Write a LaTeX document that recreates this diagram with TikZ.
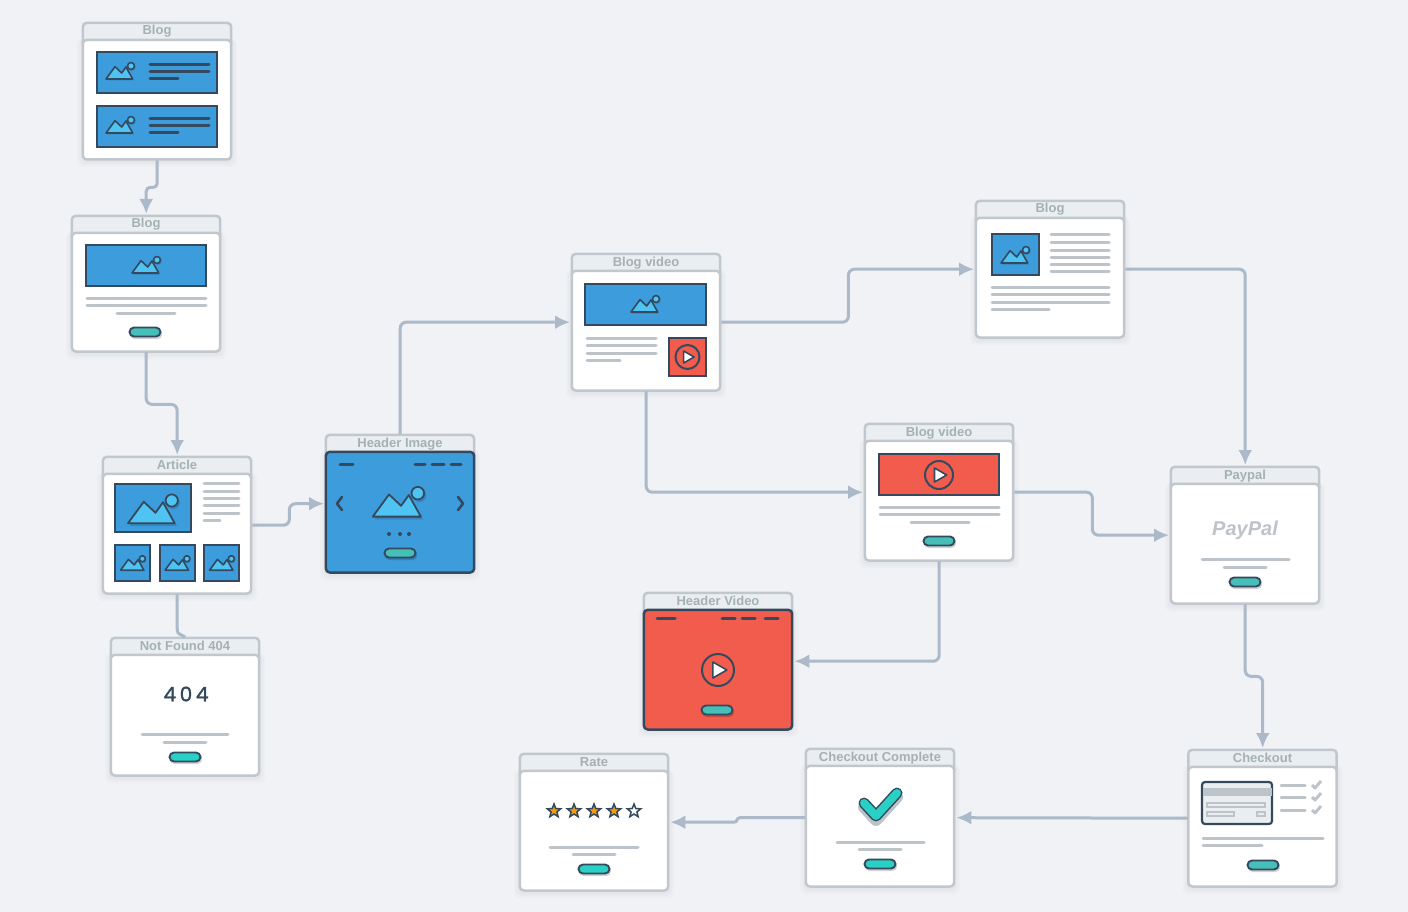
\documentclass[tikz,border=0pt]{standalone}
\usepackage{fontspec}
\setmainfont{Liberation Sans}
\newfontfamily\wide{Poppins}[LetterSpace=18,FakeBold=1.5]
\usetikzlibrary{arrows.meta,shapes.geometric}
\definecolor{pagebg}{HTML}{F0F2F6}
\definecolor{edge}{HTML}{C0C7CD}
\definecolor{tabfill}{HTML}{EBEEF0}
\definecolor{titlec}{HTML}{A4B1B2}
\definecolor{ink}{HTML}{34495E}
\definecolor{skyb}{HTML}{3C9CDC}
\definecolor{lightb}{HTML}{4FC3F2}
\definecolor{redb}{HTML}{F25C4D}
\definecolor{greyl}{HTML}{BCC3C9}
\definecolor{tealA}{HTML}{45BFB7}
\definecolor{tealB}{HTML}{2AD0C4}
\definecolor{conc}{HTML}{ABB9C9}
\definecolor{starc}{HTML}{F39C12}
\tikzset{
  conn/.style={draw=conc,line width=3pt,rounded corners=6pt,-{Latex[length=15pt,width=14pt]},shorten >=1pt},
  connplain/.style={draw=conc,line width=3pt},
  anchorbox/.style={minimum width=150pt,inner sep=0pt,anchor=north west},
  cardtitle/.style={font=\bfseries\fontsize{13}{13}\selectfont,text=titlec,inner sep=0pt,anchor=base},
  img/.style={fill=skyb,draw=ink,line width=2.2pt},
  redimg/.style={fill=redb,draw=ink,line width=2.2pt},
  gl/.style={draw=greyl,line width=3pt,line cap=round},
  dl/.style={draw=ink,line width=3pt,line cap=round},
  mstyle/.style={fill=lightb,draw=ink,line join=round},
  starnode/.style={star,star points=5,star point ratio=2.3,minimum size=14pt,inner sep=0pt,draw=ink,line width=1.5pt},
}
% #1 name, #2 x, #3 y, #4 height, #5 title, #6 body fill, #7 body edge
\newcommand\card[7]{%
  \foreach \gr in {5,3,1}{\fill[black,opacity=.016,rounded corners=5pt] (#2-\gr,#3+17) rectangle (#2+150+\gr,#3+#4+\gr+2);}
  \filldraw[fill=tabfill,draw=edge,line width=2.5pt,rounded corners=4pt] (#2+.8,#3+.8) rectangle (#2+149.2,#3+25);
  \filldraw[fill=#6,draw=#7,line width=2.5pt,rounded corners=4pt] (#2+.8,#3+17.8) rectangle (#2+149.2,#3+#4-.5);
  \node[anchorbox,minimum height=#4 pt] (#1) at (#2,#3) {};
  \node[cardtitle] (#1t) at (#2+75,#3+13) {#5};
}
% #1 style, corners x1 y1 x2 y2 (outer edge)
\newcommand\ibox[5]{\draw[#1] (#2+1,#3+1) rectangle (#4-1,#5-1);}
% #1 cx, #2 cy, #3 scale, #4 line width
\newcommand\mtn[4]{%
  \begin{scope}[shift={(#1,#2)},scale=#3]
    \fill[black,opacity=.14] (-13,8.5) -- (-5,-4) -- (1.7,2.4) -- (6,-3.6) -- (14,8.5) -- cycle;
    \fill[black,opacity=.14] (12,-4.8) circle[radius=3.7];
    \draw[mstyle,line width=#4 pt] (-14,7) -- (-5,-5.3) -- (1.7,1) -- (6,-5) -- (12.7,7) -- cycle;
    \draw[mstyle,line width=#4 pt] (11,-6) circle[radius=3.5];
  \end{scope}
}
% #1 cx, #2 cy, #3 colour
\newcommand\btn[3]{%
  \fill[black,opacity=.18,rounded corners=4.5pt] (#1-15,#2-3) rectangle (#1+17,#2+7);
  \filldraw[fill=#3,draw=ink,line width=1.9pt,rounded corners=4.5pt] (#1-15.5,#2-4.5) rectangle (#1+15.5,#2+4.5);
}
% #1 cx, #2 cy, #3 radius
\newcommand\play[3]{%
  \draw[ink,line width=2pt] (#1,#2) circle[radius=#3];
  \filldraw[fill=white,draw=ink,line width=1.6pt,line join=round] (#1-.32*#3,#2-.5*#3) -- (#1+.55*#3,#2) -- (#1-.32*#3,#2+.5*#3) -- cycle;
}
\begin{document}
\begin{tikzpicture}[x=1pt,y=-1pt]
\useasboundingbox (0,0) rectangle (1408,912);
\fill[pagebg] (0,0) rectangle (1408,912);

% ---- cards
\card{bA}{82}{22}{138}{Blog}{white}{edge}
\card{bB}{71}{215}{137}{Blog}{white}{edge}
\card{art}{102}{456}{138}{Article}{white}{edge}
\card{hi}{325}{434}{139}{Header Image}{skyb}{ink}
\card{nf}{110}{637}{139}{Not Found 404}{white}{edge}
\card{bv}{571}{253}{138}{Blog video}{white}{edge}
\card{br}{975}{200}{138}{Blog}{white}{edge}
\card{bw}{864}{423}{138}{Blog video}{white}{edge}
\card{pp}{1170}{466}{138}{Paypal}{white}{edge}
\card{hv}{643}{592}{138}{Header Video}{redb}{ink}
\card{co}{1187.5}{749}{138}{Checkout}{white}{edge}
\card{cc}{805}{748}{139}{Checkout Complete}{white}{edge}
\card{ra}{519}{753}{138}{Rate}{white}{edge}

% ---- Blog A
\ibox{img}{96}{51}{218}{94}
\ibox{img}{96}{105}{218}{148}
\mtn{120}{72}{1}{1.6}
\mtn{120}{126}{1}{1.6}
\foreach \yy in {0,54}{
  \draw[dl] (150,65+\yy) -- (209,65+\yy);
  \draw[dl] (150,72+\yy) -- (209,72+\yy);
  \draw[dl] (150,79+\yy) -- (178,79+\yy);
}
% ---- Blog B
\ibox{img}{85}{244}{207}{287}
\mtn{146}{266}{1}{1.6}
\draw[gl] (87,298) -- (206,298);
\draw[gl] (87,305) -- (206,305);
\draw[gl] (117,313) -- (175,313);
\btn{145}{332}{tealA}
% ---- Article
\ibox{img}{114}{483}{192}{533}
\mtn{152.5}{511}{1.75}{1.8}
\foreach \yy in {483,491,498,505,513}{\draw[gl] (204,\yy) -- (239,\yy);}
\draw[gl] (204,520) -- (220,520);
\foreach \xx in {114,159,203}{\ibox{img}{\xx}{544}{\xx+37}{582}}
\mtn{132.8}{564}{.87}{1.6}
\mtn{177.3}{564}{.87}{1.6}
\mtn{221.8}{564}{.87}{1.6}
% ---- Header Image
\draw[dl] (340,464) -- (353,464);
\draw[dl] (415,464) -- (425,464);
\draw[dl] (432,464) -- (444,464);
\draw[dl] (451,464) -- (461,464);
\draw[ink,line width=2.6pt,line cap=round,line join=round] (342,497) -- (337,503.5) -- (342,510);
\draw[ink,line width=2.6pt,line cap=round,line join=round] (458,497) -- (463,503.5) -- (458,510);
\mtn{398}{504}{1.8}{1.8}
\foreach \xx in {389,400,409}{\fill[ink] (\xx,534) circle[radius=2];}
\btn{400}{553}{tealA}
% ---- Not found
\node[inner sep=0pt,text=ink,font=\wide\fontsize{20}{20}\selectfont] (nft) at (186,694) {404};
\draw[gl] (142,734) -- (228,734);
\draw[gl] (164,742) -- (206,742);
\btn{185}{757}{tealB}
% ---- Blog video
\ibox{img}{584}{283}{707}{326}
\mtn{645}{305}{1}{1.6}
\foreach \yy in {338,345,353}{\draw[gl] (587,\yy) -- (656,\yy);}
\draw[gl] (587,360) -- (620,360);
\ibox{redimg}{668}{337}{707}{377}
\play{687.5}{357}{12}
% ---- Blog right
\ibox{img}{991}{233}{1040}{276}
\mtn{1015}{256}{1}{1.6}
\foreach \yy in {235,242,250,257,264,271}{\draw[gl] (1051,\yy) -- (1109,\yy);}
\foreach \yy in {287,294,302}{\draw[gl] (992,\yy) -- (1109,\yy);}
\draw[gl] (992,309) -- (1049,309);
% ---- Blog video 2
\ibox{redimg}{878}{453}{1000}{496}
\play{939}{475}{14}
\draw[gl] (880,507) -- (999,507);
\draw[gl] (880,514) -- (999,514);
\draw[gl] (911,522) -- (969,522);
\btn{939}{541}{tealA}
% ---- Paypal
\node[inner sep=0pt,text=greyl,font=\bfseries\itshape\fontsize{20}{20}\selectfont] (ppl) at (1245,530) {PayPal};
\draw[gl] (1202,559) -- (1289,559);
\draw[gl] (1224,567) -- (1266,567);
\btn{1245}{582}{tealA}
% ---- Header video
\draw[dl] (657,618) -- (675,618);
\draw[dl] (722,618) -- (735,618);
\draw[dl] (742,618) -- (755,618);
\draw[dl] (765,618) -- (778,618);
\play{718}{670}{16}
\btn{717}{710}{tealA}
% ---- Checkout
\filldraw[fill=tabfill,draw=ink,line width=2.2pt,rounded corners=3pt] (1202,782) rectangle (1272,824);
\fill[greyl] (1202.5,788) rectangle (1271.5,796);
\foreach \a/\b/\c/\d in {1207/803/1265/807,1207/812/1234/816,1257/812/1265/816}{\draw[greyl,line width=1.2pt] (\a,\b) rectangle (\c,\d);}
\foreach \yy in {785,797,810}{
  \draw[gl] (1281,\yy) -- (1305,\yy);
  \draw[greyl,line width=3pt,line join=round] (1312,\yy) -- (1315,\yy+3) -- (1321,\yy-4);
}
\draw[gl] (1203,838) -- (1323,838);
\draw[gl] (1203,845) -- (1262,845);
\btn{1263}{865}{tealA}
% ---- Checkout complete
\draw[greyl,line width=12pt,line cap=round,line join=round] (864,807) -- (876,820) -- (897,797);
\draw[ink,line width=11pt,line cap=round,line join=round] (864,803) -- (876,816) -- (897,793);
\draw[tealB,line width=8pt,line cap=round,line join=round] (864,803) -- (876,816) -- (897,793);
\draw[gl] (837,842) -- (924,842);
\draw[gl] (859,849) -- (901,849);
\btn{880}{864}{tealB}
% ---- Rate
\node[starnode,fill=starc] (s1) at (554,811) {};
\node[starnode,fill=starc] (s2) at (574,811) {};
\node[starnode,fill=starc] (s3) at (594,811) {};
\node[starnode,fill=starc] (s4) at (614,811) {};
\node[starnode,fill=white] (s5) at (634,811) {};
\draw[gl] (550,847) -- (638,847);
\draw[gl] (573,854) -- (615,854);
\btn{594}{869}{tealB}

% ---- connectors
\draw[conn,rounded corners=4pt] (bA.south) -- ++(0,27) -| (bB.north);
\draw[conn] (bB.south) -- ++(0,52) -| (art.north);
\draw[conn] (art.east) -- ++(37,0) |- (hi.west);
\draw[connplain] (art.south) -- ++(0,33) .. controls +(0,6) and +(-8,-4) .. (nf.north);
\draw[conn] (hi.north) |- (bv.west);
\draw[conn] (bv.east) -- ++(127,0) |- (br.west);
\draw[conn] (bv.south) |- (bw.west);
\draw[conn] (br.east) -| (pp.north);
\draw[conn] (bw.east) -- ++(78,0) |- (pp.west);
\draw[conn] (bw.south) |- (hv.east);
\draw[conn] (pp.south) -- ++(0,72) -| (co.north);
\draw[conn] (co.west) -- (cc.east);
\draw[conn,rounded corners=0pt] (cc.west) -- ++(-65,0) .. controls +(-4,0) and +(4,0) .. ++(-6,4.5) -- (ra.east);
\end{tikzpicture}
\end{document}
